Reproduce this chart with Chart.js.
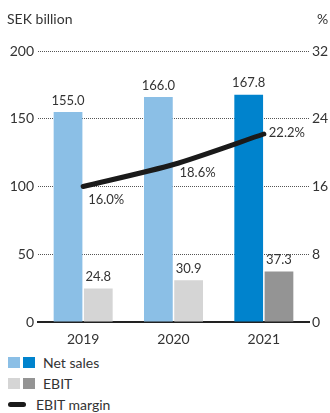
<!DOCTYPE html>
<html>
<head>
<meta charset="utf-8">
<script src="https://cdn.jsdelivr.net/npm/chart.js@4"></script>
<style>
  body { margin:0; width:330px; height:413px; background:#fff; font-family:Lato, sans-serif; color:#333; position:relative; overflow:hidden; }
  #wrap { position:absolute; left:0; top:0; width:330px; height:345px; }
  .unit { position:absolute; top:10px; font-size:14px; }
  .row { position:absolute; left:8px; height:20px; display:flex; align-items:center; font-size:14px; }
  .sq { width:12px; height:11px; margin-right:3px; }
  .ln { width:18px; height:5px; border-radius:3px; background:#1a1a1a; margin-right:10px; }
</style>
</head>
<body>
<div id="wrap"><canvas id="myChart"></canvas></div>
<div class="unit" style="left:7px">SEK billion</div>
<div class="unit" style="left:317px">%</div>
<div class="row" style="top:352px"><span class="sq" style="background:#8bbfe6"></span><span class="sq" style="background:#0083cd;margin-right:8px"></span>Net sales</div>
<div class="row" style="top:373px"><span class="sq" style="background:#d5d5d5"></span><span class="sq" style="background:#949494;margin-right:8px"></span>EBIT</div>
<div class="row" style="top:394px"><span class="ln"></span>EBIT margin</div>
<script>
const years = ['2019', '2020', '2021']
const netSales = [155.0, 166.0, 167.8]
const ebit = [24.8, 30.9, 37.3]
const ebitMargin = [16.0, 18.6, 22.2]
const leftTicks = [0, 50, 100, 150, 200]
const rightTicks = [0, 8, 16, 24, 32]

// where the margin labels sit relative to their point
const marginLabelOffset = [[5, 13], [6, 8], [5, -1]]

const textColor = '#333'

Chart.defaults.font.family = 'Lato, sans-serif'
Chart.defaults.color = textColor

const ctx = document.getElementById('myChart')

new Chart(ctx, {
  type: 'bar',
  data: {
    labels: years,
    datasets: [
      {
        type: 'line',
        label: 'EBIT margin',
        data: ebitMargin,
        yAxisID: 'y1',
        borderColor: '#1a1a1a',
        borderWidth: 5,
        borderCapStyle: 'round',
        tension: 0.25,
        pointRadius: 0,
        order: 0
      },
      {
        label: 'Net sales',
        data: netSales,
        backgroundColor: ['#8bbfe6', '#8bbfe6', '#0083cd'],
        categoryPercentage: 0.67,
        barPercentage: 0.95,
        order: 1
      },
      {
        label: 'EBIT',
        data: ebit,
        backgroundColor: ['#d5d5d5', '#d5d5d5', '#949494'],
        categoryPercentage: 0.67,
        barPercentage: 0.95,
        order: 1
      }
    ]
  },
  options: {
    responsive: true,
    maintainAspectRatio: false,
    animation: false,
    layout: { padding: { top: 51, left: 0, right: 0, bottom: 0 } },
    plugins: { legend: { display: false }, tooltip: { enabled: false } },
    scales: {
      x: {
        grid: { display: false },
        border: { display: true, color: '#222', width: 2 },
        ticks: { font: { size: 14 }, padding: 1 },
        afterFit(s) { s.height = 23 }
      },
      y: {
        min: 0, max: 200,
        afterBuildTicks(s) { s.ticks = leftTicks.map(v => ({ value: v })) },
        grid: {
          drawTicks: false,
          lineWidth: 1,
          color: c => c.tick && c.tick.value === 0 ? 'rgba(0,0,0,0)' : '#555'
        },
        border: { display: false, dash: [1, 1] },
        ticks: { font: { size: 14 }, padding: 4 },
        afterFit(s) { s.width = 38 }
      },
      y1: {
        position: 'right',
        min: 0, max: 32,
        afterBuildTicks(s) { s.ticks = rightTicks.map(v => ({ value: v })) },
        grid: { display: false, drawTicks: false },
        border: { display: false },
        ticks: { font: { size: 14 }, padding: 3 },
        afterFit(s) { s.width = 21 }
      }
    }
  },
  plugins: [{
    id: 'valueLabels',
    afterDatasetsDraw(chart) {
      const c = chart.ctx
      c.save()
      c.font = '13px Lato'
      c.fillStyle = textColor
      chart.data.datasets.forEach((ds, i) => {
        chart.getDatasetMeta(i).data.forEach((el, j) => {
          const v = ds.data[j]
          if (ds.type === 'line') {
            const off = marginLabelOffset[j]
            c.textAlign = 'left'
            c.textBaseline = 'middle'
            c.fillText(v.toFixed(1) + '%', el.x + off[0], el.y + off[1])
          } else {
            c.textAlign = 'center'
            c.textBaseline = 'bottom'
            c.fillText(v.toFixed(1), el.x, el.y - 5)
          }
        })
      })
      c.restore()
    }
  }]
})
</script>
</body>
</html>
